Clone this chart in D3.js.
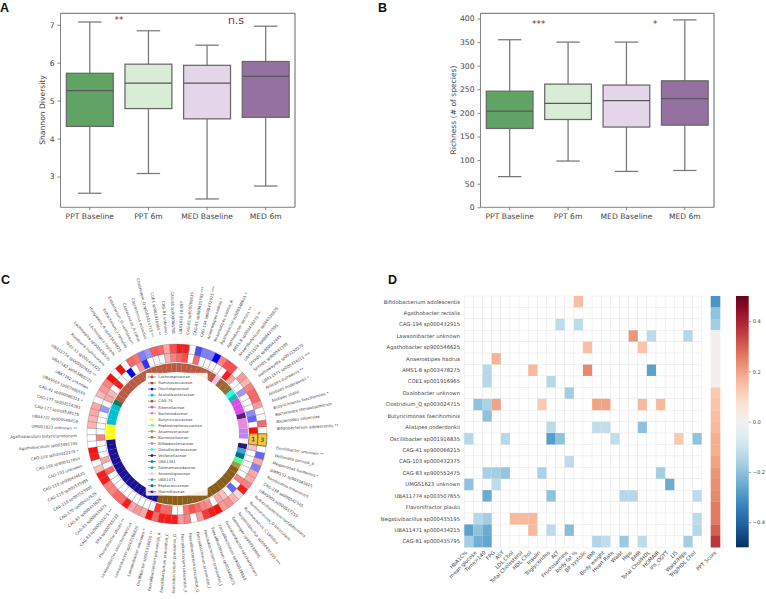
<!DOCTYPE html>
<html>
<head>
<meta charset="utf-8">
<script src="https://cdn.jsdelivr.net/npm/d3@7"></script>
<style>
  html, body { margin: 0; padding: 0; background: #fff; }
  svg { display: block; font-family: "DejaVu Sans", sans-serif; }
</style>
</head>
<body>
<svg width="766" height="599"></svg>
<script>
// Box plots: whisker low, q1, median, q3, whisker high
const groups = ['PPT Baseline', 'PPT 6m', 'MED Baseline', 'MED 6m'];
const boxColors = ['#5fa465', '#d9ecd6', '#e4d6e8', '#9571a2'];
const shannon = [
  [2.56, 4.32, 5.26, 5.72, 7.07],
  [3.08, 4.79, 5.46, 5.96, 6.84],
  [2.41, 4.52, 5.46, 5.93, 6.46],
  [2.75, 4.56, 5.64, 6.03, 6.96]
];
const richness = [
  [65, 167, 204, 246, 355],
  [98, 186, 220, 261, 350],
  [76, 170, 226, 259, 350],
  [78, 174, 230, 268, 397]
];
const shannonTicks = [3, 4, 5, 6, 7];
const richnessTicks = [0, 50, 100, 150, 200, 250, 300, 350, 400];

// Circular plot
const speciesLabels = [
  'Oscillibacter unknown **', 'Veillonella parvula_A', 'Megamonas funiformis *', 'GMM151 sp003343815',
  'Romboutsia timonensis', 'CAG-238 sp900542345', 'UBA5905 sp900557255', 'Ruthenibacterium lactatiformans',
  'Ruminococcus_D bicirculans', 'Ruminococcus_C callidus', 'Negativibacillus sp000435195 ***', 'Gemmiger sp900539845',
  'Fusicatenibacter saccharivorans', 'Faecalibacterium sp900539885', 'Faecalibacterium sp003449675', 'Faecalibacterium prausnitzii_J',
  'Faecalibacterium prausnitzii_I', 'Faecalibacterium prausnitzii_G', 'Faecalibacterium prausnitzii_F', 'Faecalibacterium prausnitzii_D',
  'Faecalibacterium prausnitzii_C', 'Faecalibacterium prausnitzii_A', 'Oscillibacter sp001916835 **', 'Lawsonibacter unknown *',
  'Lawsonibacter sp002160825', 'Lawsonibacter asaccharolyticus', 'Flavonifractor plautii **', 'ER4 sp000765235',
  'CAG-83 sp900552475 **', 'CAG-83 sp000435675', 'CAG-83 sp000431625', 'CAG-170 sp000433535',
  'CAG-110 sp003525905', 'CAG-110 sp003535905', 'CAG-110 sp000434635', 'CAG-103 unknown',
  'CAG-103 sp900317855', 'CAG-103 sp000432375 *', 'Agathobaculum sp003481705', 'Agathobaculum butyriciproducens',
  'UMGS1623 unknown **', 'UBA4737 sp900549459', 'CAG-177 sp003538135', 'CAG-177 sp003514385',
  'CAG-41 sp900066215 *', 'UBA9507 sp003480555', 'UBA7182 unknown', 'UBA7182 sp003480725',
  'UBA11774 sp003507655 **', 'TF01-11 sp001414325', 'Roseburia inulinivorans', 'Lachnospira sp000436535',
  'Lachnospira rogosae', 'Hungatella_A sp003434925', 'Eubacterium_I ramulus', 'Eubacterium_G ventriosum',
  'Coprococcus_A catus', 'Coprococcus eutactus', 'Clostridium_Q sp003024715 **', 'COE1 sp001916965 **',
  'CAG-81 unknown', 'CAG-81 sp900066785', 'UBA3818 18-097', 'CAG-81 sp900066535',
  'CAG-81 sp000435795 ***', 'CAG-194 sp000432915 ***', 'Anaerostipes hadrus *', 'Anaerostipes hadrus_A',
  'Agathobacter sp900546625 *', 'Agathobacter rectalis **', 'AMS1-8 sp003478275 **', 'Anaerobutyricum sp900536625',
  'UBA11524 sp000437595', 'SFFH01 sp900542445', 'SFFH01 sp900542395', 'Hathewayella sp003150275',
  'UBA11471 sp000434215 ***', 'Alistipes putredinis **', 'Alistipes onderdonkii *', 'Alistipes shahii',
  'Butyricimonas faecihominis *', 'Bacteroides thetaiotaomicron', 'Bacteroides salyersiae', 'Bifidobacterium adolescentis **'
];
// ring values start at the sector right after the yellow one, going clockwise
const outerRing = [
  0, -.6, .35, -.5, .35, .35, .5, .9, .15, .3, .45, .4, .95, .9, .8, .4, 0, .5, .4, .9,
  .9, .9, .6, .95, .35, .4, .35, .9, .6, .6, .5, .5, .9, .9, .25, 0, .9, .95, 0, 0,
  0, .3, .3, .35, .35, 0, .3, .4, .5, .95, 0, .95, 0, .6, .55, -.5, -.4, .65, .6, .35,
  .7, .9, .9, 0, -.7, -.5, -.5, -1, .5, .7, .7, 0, .4, .3, .5, .6, .6, .4, 0, 0,
  .6, 0
];
const innerRing = [
  .25, 0, 0, 0, 0, 0, .5, 0, -.6, 0, .25, .35, 0, .45, .5, .6, .7, .55, 0, 0,
  .6, .6, .8, 0, 0, 0, 0, 0, 0, 0, 0, 0, 0, .6, 0, .35, 0, 0, 0, .5,
  0, 0, 0, 0, -.4, 0, .35, .3, 0, .9, 0, 0, -1, 0, .4, -.8, 0, 0, 0, .3,
  .5, .6, .7, 0, .6, 0, 0, 0, 0, 0, .9, .35, 0, 0, -.4, 0, 0, 0, -.45, -.6,
  0, .95
];
const familyNames = ['Lachnospiraceae', 'Ruminococcaceae', 'Oscillospiraceae', 'Acutalibacteraceae', 'CAG-74', 'Rikenellaceae',
  'Bacteroidaceae', 'Butyricicoccaceae', 'Peptostreptococcaceae', 'Anaerovoraceae', 'Barnesiellaceae', 'Bifidobacteriaceae',
  'Desulfovibrionaceae', 'Veillonellaceae', 'UBA1381', 'Selenomonadaceae', 'Anaerotignaceae', 'UBA1471', 'Peptococcaceae', 'Marinifilaceae'];
const familyColors = ['#bb5a42', '#8a5e18', '#1c1096', '#00bfd0', '#9c6a30', '#d84ceb',
  '#e887dc', '#ffff10', '#55ff88', '#a09a55', '#55aa22', '#c080ee',
  '#22ffea', '#2a1a72', '#0d8258', '#3aa0e0', '#ffbfea', '#20bba5', '#0a6c8c', '#552277'];
// family of each run of sectors around the ring, clockwise
const ringFamilies = ['Veillonellaceae', 'Selenomonadaceae', 'Peptococcaceae', 'Peptostreptococcaceae', 'Anaerovoraceae', 'Ruminococcaceae',
  'Oscillospiraceae', 'Butyricicoccaceae', 'Acutalibacteraceae', 'UBA1381', 'Lachnospiraceae', 'Anaerotignaceae', 'CAG-74',
  'Desulfovibrionaceae', 'UBA1471', 'Rikenellaceae', 'Marinifilaceae', 'Bacteroidaceae', 'Bifidobacteriaceae'];
const ringCounts = [1, 1, 1, 1, 1, 18, 16, 3, 4, 1, 22, 1, 3, 1, 1, 3, 1, 2, 2];

// Heatmap
const heatRows = ['Bifidobacterium adolescentis', 'Agathobacter rectalis', 'CAG-194 sp000432915', 'Lawsonibacter unknown',
  'Agathobacter sp900546625', 'Anaerostipes hadrus', 'AMS1-8 sp003478275', 'COE1 sp001916965', 'Oxalobacter unknown',
  'Clostridium_Q sp003024715', 'Butyricimonas faecihominis', 'Alistipes onderdonkii', 'Oscillibacter sp001916835',
  'CAG-41 sp900066215', 'CAG-103 sp000432375', 'CAG-83 sp900552475', 'UMGS1623 unknown', 'UBA11774 sp003507655',
  'Flavonifractor plautii', 'Negativibacillus sp000435195', 'UBA11471 sp000434215', 'CAG-81 sp000435795'];
const heatCols = ['HbA1C%', 'mean glucose', 'Time>140', 'FPG', 'AST', 'LDL Chol', 'Total Cholesterol', 'HDL Chol', 'Insulin',
  'Triglycerides', 'ALT', 'Fructosamine', 'body fat %', 'BP systolic', 'BMI', 'Body weight', 'Heart Rate', 'Waist', 'Hips',
  'BMR', 'Total Chol/HDL', 'HOMAIR', 'ins_OGTT', 'LIS', 'Waist/Hips', 'Trig/HDL Chol'];
// row, column, r
const heatCells = [
  [0, 12, .15], [2, 10, -.13], [2, 12, -.13], [3, 18, .22], [3, 20, -.13], [3, 24, -.14],
  [4, 13, .15], [4, 19, .14], [5, 3, .17], [6, 2, -.14], [6, 7, .16], [6, 13, .24], [6, 20, -.27],
  [7, 2, -.14], [7, 9, -.14], [8, 11, -.17],
  [9, 1, -.2], [9, 2, -.16], [9, 3, .2], [9, 8, .13], [9, 14, .2], [9, 15, .2], [9, 19, .16], [9, 21, .16],
  [10, 2, -.2], [11, 9, -.13], [11, 14, -.12], [11, 15, -.12], [11, 19, -.2],
  [12, 0, -.14], [12, 4, -.14], [12, 9, -.28], [12, 10, -.2], [12, 16, -.12], [12, 23, .13], [12, 25, -.2],
  [14, 11, -.13], [15, 2, -.16], [15, 3, -.17], [15, 4, -.19], [15, 8, -.16], [15, 21, -.17],
  [16, 0, -.2], [16, 3, -.13], [16, 22, -.25],
  [17, 2, -.25], [17, 9, -.2], [17, 17, -.14], [17, 18, -.14], [17, 25, -.13],
  [19, 1, -.14], [19, 2, -.17], [19, 5, .16], [19, 6, .16], [19, 7, .16], [19, 25, -.13],
  [20, 0, -.27], [20, 1, -.2], [20, 2, -.25], [20, 7, .16], [20, 9, -.13], [20, 11, -.21], [20, 25, -.14],
  [21, 0, -.17], [21, 1, -.24], [21, 2, -.26], [21, 14, -.15], [21, 15, -.12], [21, 17, -.18], [21, 19, -.13], [21, 24, -.17]
];
const pptScore = [-.3, -.2, -.17, 0, 0, 0, 0, 0, .13, .14, .15, .16, .18, .18, .2, .22, .23, .24, .26, .26, .3, .36];
const colorbarTicks = [-.4, -.2, 0, .2, .4];

const svg = d3.select('svg');
const textColor = '#444';

// panel letters
[['A', 0, 11.8], ['B', 378, 11.8], ['C', 1, 284], ['D', 388, 284]].forEach(function(p) {
  svg.append('text').attr('x', p[1]).attr('y', p[2]).text(p[0])
    .attr('font-family', '"Liberation Sans", sans-serif').attr('font-weight', 700).attr('font-size', 12.5).attr('fill', '#111');
});

function boxPanel(opts) {
  const g = svg.append('g');
  const x = d3.scaleBand().domain(groups).range([opts.left, opts.right]).paddingInner(0).paddingOuter(0);
  const y = d3.scaleLinear().domain(opts.domain).range([207.3, 13.3]);
  const boxW = x.bandwidth() * 0.8;
  const capW = x.bandwidth() * 0.4;

  opts.values.forEach(function(v, i) {
    const cx = x(groups[i]) + x.bandwidth() / 2;
    const b = g.append('g').attr('stroke', '#777').attr('stroke-width', 1.25);
    b.append('line').attr('x1', cx).attr('x2', cx).attr('y1', y(v[0])).attr('y2', y(v[4]));
    b.append('line').attr('x1', cx - capW / 2).attr('x2', cx + capW / 2).attr('y1', y(v[0])).attr('y2', y(v[0]));
    b.append('line').attr('x1', cx - capW / 2).attr('x2', cx + capW / 2).attr('y1', y(v[4])).attr('y2', y(v[4]));
    b.append('rect').attr('x', cx - boxW / 2).attr('width', boxW)
      .attr('y', y(v[3])).attr('height', y(v[1]) - y(v[3])).attr('fill', boxColors[i]).attr('stroke', '#686868');
    b.append('line').attr('x1', cx - boxW / 2).attr('x2', cx + boxW / 2).attr('y1', y(v[2])).attr('y2', y(v[2]))
      .attr('stroke', '#595959');
  });

  const xAxis = g.append('g').attr('transform', 'translate(0,207.3)').call(d3.axisBottom(x).tickSize(3).tickPadding(3));
  const yAxis = g.append('g').attr('transform', 'translate(' + opts.left + ',0)')
    .call(d3.axisLeft(y).tickValues(opts.ticks).tickFormat(d3.format('d')).tickSize(3).tickPadding(3));
  [xAxis, yAxis].forEach(function(a) {
    a.selectAll('text').attr('font-size', 7.6).attr('font-family', '"DejaVu Sans"').attr('fill', textColor);
    a.selectAll('line').attr('stroke', '#555').attr('stroke-width', .7);
    a.select('.domain').remove();
  });

  // spines, the top and right ones read a bit heavier
  const spines = g.append('g');
  spines.append('path').attr('d', d3.line()([[opts.left, 13.3], [opts.right, 13.3], [opts.right, 207.3]]))
    .attr('fill', 'none').attr('stroke', '#888').attr('stroke-width', 1.3);
  spines.append('path').attr('d', d3.line()([[opts.left, 13.3], [opts.left, 207.3], [opts.right, 207.3]]))
    .attr('fill', 'none').attr('stroke', '#666').attr('stroke-width', .8);

  g.append('text').text(opts.ylabel).attr('font-size', 7.6).attr('fill', textColor).attr('text-anchor', 'middle')
    .attr('transform', 'translate(' + opts.labelX + ',110) rotate(-90)');

  opts.marks.forEach(function(m) {
    g.append('text').text(m[0]).attr('x', m[1]).attr('y', m[2]).attr('text-anchor', 'middle')
      .attr('font-size', m[3]).attr('fill', '#8c2a35');
  });
}

boxPanel({ left: 60.5, right: 295, domain: [2.19, 7.3], values: shannon, ticks: shannonTicks,
  ylabel: 'Shannon Diversity', labelX: 45, marks: [['**', 119, 23, 9], ['n.s', 236, 24, 11]] });
boxPanel({ left: 480.5, right: 714, domain: [0, 411], values: richness, ticks: richnessTicks,
  ylabel: 'Richness (# of species)', labelX: 455.5, marks: [['***', 538.7, 27, 9], ['*', 655.3, 27, 9]] });

// circular plot
const cx = 177, cy = 434;
const cGroup = svg.append('g').attr('transform', 'translate(' + cx + ',' + cy + ')');
const rad = Math.PI / 180;
const step = 4.286;
// sector k is centred here, in degrees clockwise from the right hand side
const sectorAngle = d3.scaleLinear().domain([1, 83]).range([6 + step, 6 + 83 * step]);
const bwr = d3.scaleLinear().domain([-1, 0, 1]).range(['#0000ff', '#ffffff', '#ff0000']);
const arc = d3.arc();

function sectorPath(k, r0, r1, span) {
  const a = sectorAngle(k) + 90;
  const half = (span || step) / 2;
  return arc({ innerRadius: r0, outerRadius: r1, startAngle: (a - half) * rad, endAngle: (a + half) * rad });
}

// colour ring: repeat each family over its run of sectors
let ringIndex = 1;
ringFamilies.forEach(function(name, i) {
  const fill = familyColors[familyNames.indexOf(name)];
  d3.range(ringCounts[i]).forEach(function() {
    cGroup.append('path').attr('d', sectorPath(ringIndex, 62, 71, step + .1)).attr('fill', fill);
    ringIndex++;
  });
});

function drawRing(values, r0, r1) {
  values.forEach(function(v, i) {
    cGroup.append('path').attr('d', sectorPath(i + 1, r0, r1)).attr('fill', bwr(v))
      .attr('stroke', '#666').attr('stroke-width', .3);
  });
}
drawRing(innerRing, 72, 81);
drawRing(outerRing, 81, 90);

// highlighted sector at the start of the rings
const hlK = 83.5;
cGroup.append('path').attr('d', sectorPath(hlK, 72, 81, 8)).attr('fill', '#f5c83c').attr('stroke', '#222').attr('stroke-width', .5);
cGroup.append('path').attr('d', sectorPath(hlK, 81, 90, 8)).attr('fill', '#f5c83c').attr('stroke', '#222').attr('stroke-width', .5);
[['1', 76.5, '#7a2a8a'], ['3', 85.5, '#1e8a3c']].forEach(function(m) {
  const a = sectorAngle(hlK);
  cGroup.append('text').text(m[0]).attr('font-size', 6).attr('font-weight', 700).attr('fill', m[2]).attr('text-anchor', 'middle')
    .attr('transform', 'rotate(' + a + ') translate(' + m[1] + ',2.2)');
});

// species labels run radially; the left half is flipped so it stays readable
const labelAngle = d3.scaleLinear().domain([1, 40, 84]).range([8, 179, 357]);
speciesLabels.forEach(function(name, i) {
  const a = labelAngle(i + 1);
  const flip = a > 90 && a < 270;
  cGroup.append('text').text(name).attr('font-size', 3.9).attr('fill', textColor)
    .attr('text-anchor', flip ? 'end' : 'start')
    .attr('transform', 'rotate(' + a + ') translate(100,0)' + (flip ? ' rotate(180)' : '') + ' translate(0,1.3)');
});

// legend
const legend = svg.append('g');
const legendY = d3.scaleLinear().domain([0, familyNames.length - 1]).range([377, 491.8]);
legend.append('rect').attr('x', 146).attr('y', 373).attr('width', 61.5).attr('height', 122.5)
  .attr('fill', '#fff').attr('fill-opacity', .9).attr('stroke', '#ddd').attr('stroke-width', .4).attr('rx', 1);
familyNames.forEach(function(name, i) {
  legend.append('line').attr('x1', 148).attr('x2', 156).attr('y1', legendY(i)).attr('y2', legendY(i))
    .attr('stroke', familyColors[i]).attr('stroke-width', .7);
  legend.append('circle').attr('cx', 152).attr('cy', legendY(i)).attr('r', 1.4).attr('fill', familyColors[i]);
  legend.append('text').text(name).attr('x', 158.3).attr('y', legendY(i) + 1.3).attr('font-size', 3.75).attr('fill', textColor);
});

// heatmap
const hx = d3.scaleBand().domain(heatCols).range([464.3, 701.7]);
const hy = d3.scaleBand().domain(heatRows).range([296, 547.3]);
const rdbu = function(v) { return d3.interpolateRdBu(1 - (v + .5)); };
const heat = svg.append('g');

heatRows.forEach(function(r) {
  heatCols.forEach(function(c) {
    heat.append('rect').attr('x', hx(c)).attr('y', hy(r)).attr('width', hx.bandwidth()).attr('height', hy.bandwidth())
      .attr('fill', '#fff').attr('stroke', '#e9e9e9').attr('stroke-width', .5);
  });
});
heatCells.forEach(function(d) {
  heat.append('rect').attr('x', hx(heatCols[d[1]])).attr('y', hy(heatRows[d[0]]))
    .attr('width', hx.bandwidth()).attr('height', hy.bandwidth()).attr('fill', rdbu(d[2]));
});
heatRows.forEach(function(r) {
  heat.append('text').text(r).attr('x', 460).attr('y', hy(r) + hy.bandwidth() / 2 + 1.8).attr('text-anchor', 'end')
    .attr('font-size', 5.25).attr('fill', textColor);
});
heatCols.forEach(function(c) {
  const tx = hx(c) + hx.bandwidth() / 2 - 1;
  heat.append('text').text(c).attr('font-size', 5.2).attr('fill', textColor).attr('text-anchor', 'end')
    .attr('transform', 'translate(' + tx + ',553) rotate(-45)');
});

// PPT score strip
const sx = d3.scaleBand().domain(['PPT Score']).range([710.7, 720.3]);
pptScore.forEach(function(v, i) {
  heat.append('rect').attr('x', sx('PPT Score')).attr('y', hy(heatRows[i])).attr('width', sx.bandwidth())
    .attr('height', hy.bandwidth() + .2).attr('fill', rdbu(v));
});
heat.append('text').text('PPT Score').attr('font-size', 5.2).attr('fill', textColor).attr('text-anchor', 'end')
  .attr('transform', 'translate(716.7,553) rotate(-45)');

// colorbar
const defs = svg.append('defs');
const grad = defs.append('linearGradient').attr('id', 'cbar').attr('x1', 0).attr('x2', 0).attr('y1', 1).attr('y2', 0);
d3.range(0, 1.001, .05).forEach(function(t) {
  grad.append('stop').attr('offset', t).attr('stop-color', d3.interpolateRdBu(1 - t));
});
heat.append('rect').attr('x', 736).attr('y', 296).attr('width', 12.7).attr('height', 251.3).attr('fill', 'url(#cbar)');
const cbarY = d3.scaleLinear().domain([-.5, .5]).range([547.3, 296]);
const cbarAxis = heat.append('g').attr('transform', 'translate(748.7,0)')
  .call(d3.axisRight(cbarY).tickValues(colorbarTicks).tickFormat(function(d) { return d3.format('.1f')(d).replace('-', '\u2212'); }).tickSize(2.5).tickPadding(1.5));
cbarAxis.select('.domain').remove();
cbarAxis.selectAll('line').attr('stroke', '#555').attr('stroke-width', .5);
cbarAxis.selectAll('text').attr('font-size', 5.1).attr('font-family', '"DejaVu Sans"').attr('fill', textColor);
</script>
</body>
</html>
